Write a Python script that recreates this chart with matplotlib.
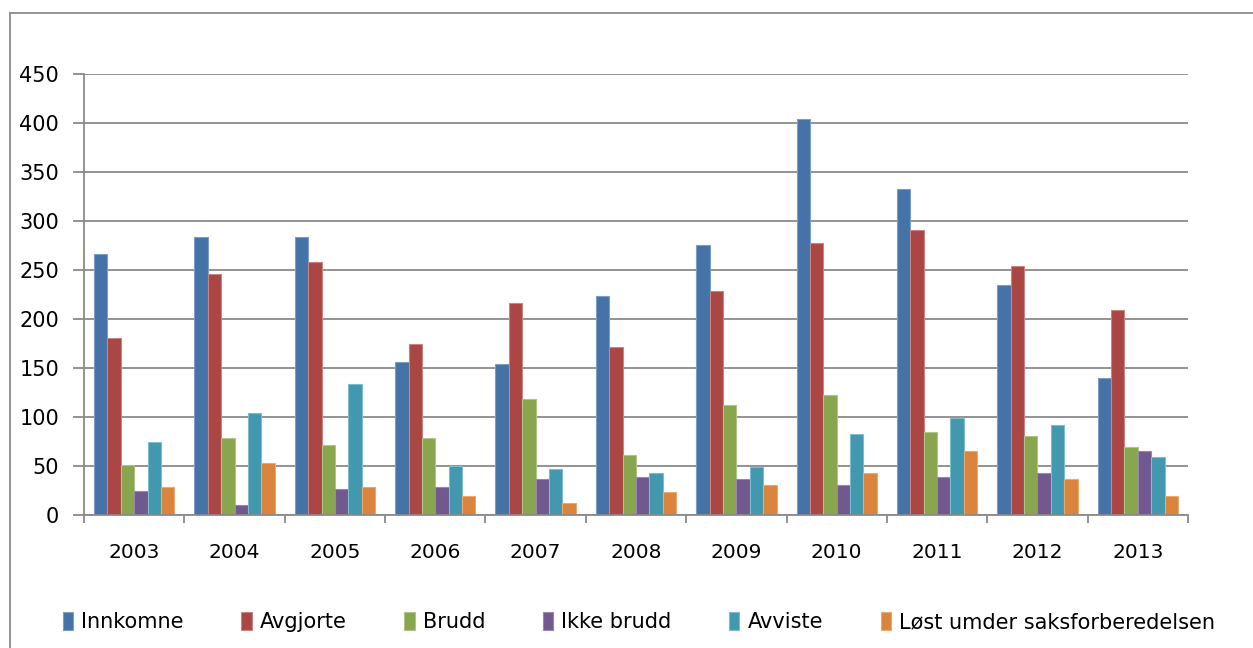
import matplotlib
matplotlib.use("Agg")
import matplotlib.pyplot as plt
import numpy as np
from matplotlib.lines import Line2D

# --------------------- Data ---------------------
years = ["2003", "2004", "2005", "2006", "2007", "2008",
         "2009", "2010", "2011", "2012", "2013"]
innkomne = [266, 284, 284, 156, 154, 223, 276, 404, 333, 235, 140]
avgjorte = [181, 246, 258, 175, 216, 171, 229, 278, 291, 254, 209]
brudd = [51, 79, 71, 79, 118, 61, 112, 122, 85, 81, 69]
ikke_brudd = [25, 10, 27, 29, 37, 39, 37, 31, 39, 43, 65]
avviste = [75, 104, 134, 50, 47, 43, 49, 83, 99, 92, 59]
lost = [29, 53, 29, 19, 12, 23, 31, 43, 65, 37, 19]

series_names = ["Innkomne", "Avgjorte", "Brudd", "Ikke brudd", "Avviste",
                "Løst umder saksforberedelsen"]
series_vals = [innkomne, avgjorte, brudd, ikke_brudd, avviste, lost]
colors = ["#4572A7", "#AA4643", "#89A54E", "#71588F", "#4198AF", "#DB843D"]
edge_colors = ["#7d9cc6", "#c98583", "#aec48a", "#9886b0", "#7fbccc", "#eaa970"]

GRID = "#8a8a8a"

plt.rcParams["font.family"] = ["DejaVu Sans"]

fig = plt.figure(figsize=(12.53, 6.48), dpi=100)
ax = fig.add_axes([84 / 1253, 1 - 515 / 648, (1188 - 84) / 1253, (515 - 74) / 648])

x = np.arange(len(years))
n = len(series_vals)
w = 0.8 / n
for i, (name, vals) in enumerate(zip(series_names, series_vals)):
    ax.bar(x - 0.4 + w * (i + 0.5), vals, width=w, color=colors[i],
           edgecolor=edge_colors[i], linewidth=0.8, label=name, zorder=3)

ax.set_ylim(0, 450)
ax.set_yticks(np.arange(0, 451, 50))
ax.set_xlim(-0.5, len(years) - 0.5)
ax.yaxis.grid(True, color=GRID, linewidth=1.3, zorder=0)

# category boundaries as ticks, labels in centre
ax.set_xticks(np.arange(-0.5, len(years), 1.0))
ax.set_xticklabels([])
ax.set_xticks(x, minor=True)
ax.set_xticklabels(years, minor=True, fontsize=14.5)
ax.tick_params(axis="x", which="minor", length=0, pad=20)
ax.tick_params(axis="x", which="major", length=6, width=1.3, color=GRID)
ax.tick_params(axis="y", length=8, width=1.3, color=GRID, labelsize=15, pad=10)

for s in ["top", "right"]:
    ax.spines[s].set_visible(False)
for s in ["left", "bottom"]:
    ax.spines[s].set_color(GRID)
    ax.spines[s].set_linewidth(1.3)
    ax.spines[s].set_zorder(4)

leg = fig.legend(loc="center", bbox_to_anchor=(0.51, 1 - 622 / 648), ncol=6,
                 frameon=False, fontsize=15, handlelength=0.5, handleheight=1.0,
                 handletextpad=0.4, columnspacing=2.75)

# outer chart border (left and top only visible)
fig.add_artist(Line2D([10 / 1253, 10 / 1253], [0, 1 - 13 / 648],
                      transform=fig.transFigure, color="#8c8c8c", linewidth=1.3))
fig.add_artist(Line2D([10 / 1253, 1], [1 - 13 / 648, 1 - 13 / 648],
                      transform=fig.transFigure, color="#8c8c8c", linewidth=1.3))

fig.savefig("out.png", dpi=100)
